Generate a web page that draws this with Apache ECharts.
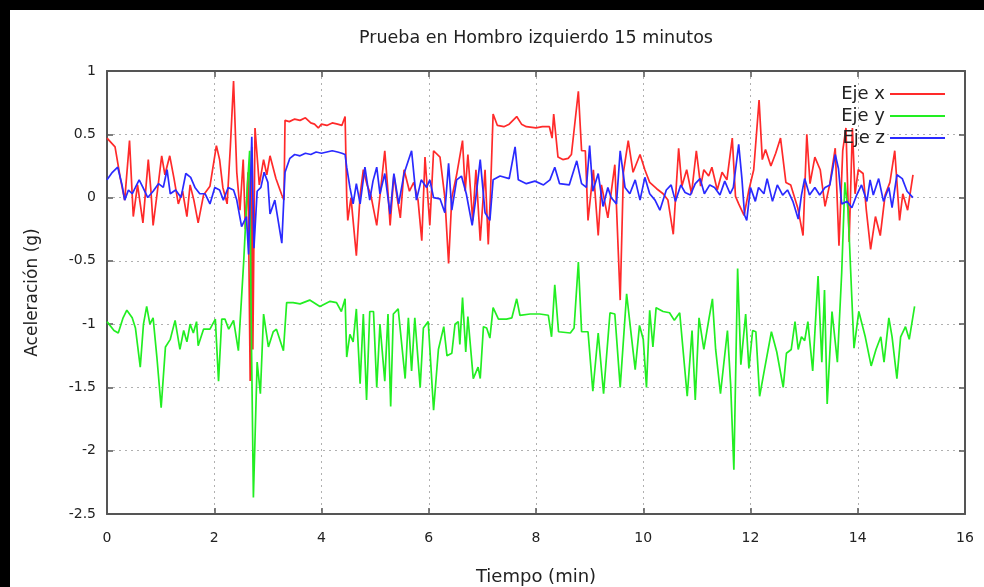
<!DOCTYPE html>
<html>
<head>
<meta charset="utf-8">
<script src="https://cdn.jsdelivr.net/npm/echarts@6/dist/echarts.min.js"></script>
<style>
  html, body { margin: 0; padding: 0; background: #000; width: 984px; height: 587px; overflow: hidden; }
  #chart { position: absolute; left: 10px; top: 10px; width: 974px; height: 577px; background: #fff; }
</style>
</head>
<body>
<div id="chart"></div>
<script>
// Acelerómetro en el hombro izquierdo: tiempo (min) y aceleración (g) por eje
const tiempoX = [
  0.00,0.15,0.25,0.33,0.42,0.49,0.57,0.67,0.77,0.82,
  0.86,0.94,1.02,1.08,1.17,1.25,1.33,1.41,1.49,1.55,
  1.62,1.70,1.80,1.92,2.04,2.10,2.16,2.24,2.30,2.36,
  2.42,2.48,2.54,2.58,2.63,2.67,2.70,2.72,2.76,2.84,
  2.92,2.98,3.04,3.15,3.26,3.30,3.32,3.40,3.50,3.60,
  3.70,3.80,3.87,3.94,4.00,4.10,4.20,4.30,4.38,4.44,
  4.47,4.49,4.55,4.65,4.72,4.78,4.85,4.92,5.03,5.10,
  5.18,5.23,5.28,5.35,5.41,5.47,5.54,5.64,5.72,5.80,
  5.87,5.93,6.02,6.09,6.21,6.30,6.37,6.43,6.52,6.63,
  6.68,6.73,6.82,6.88,6.96,7.05,7.11,7.15,7.20,7.28,
  7.40,7.50,7.64,7.73,7.82,8.00,8.12,8.25,8.30,8.33,
  8.41,8.50,8.60,8.66,8.79,8.85,8.92,8.97,9.07,9.16,
  9.22,9.34,9.47,9.57,9.63,9.72,9.81,9.94,10.03,10.12,
  10.25,10.37,10.46,10.56,10.66,10.72,10.81,10.90,10.99,11.07,
  11.13,11.22,11.28,11.38,11.47,11.56,11.66,11.72,11.78,11.88,
  11.97,12.06,12.16,12.22,12.28,12.38,12.47,12.56,12.66,12.75,
  12.88,12.98,13.05,13.11,13.20,13.30,13.39,13.48,13.58,13.65,
  13.72,13.78,13.84,13.90,13.95,14.01,14.10,14.16,14.24,14.33,
  14.42,14.51,14.60,14.69,14.78,14.84,14.93,15.03
];
const ejeX = [
  0.47,0.40,0.15,-0.02,0.45,-0.15,0.10,-0.20,0.30,0.05,
  -0.22,0.05,0.33,0.18,0.33,0.15,-0.05,0.05,-0.15,0.10,
  -0.02,-0.20,0.02,0.09,0.41,0.30,0.08,-0.05,0.40,0.92,
  0.20,-0.10,0.30,-0.25,0.20,-1.45,0.40,-1.20,0.55,0.10,
  0.30,0.18,0.33,0.15,0.02,-0.02,0.61,0.60,0.62,0.61,
  0.63,0.59,0.58,0.55,0.58,0.57,0.59,0.58,0.57,0.64,
  0.00,-0.18,0.00,-0.46,0.02,0.22,0.10,0.02,-0.22,0.05,
  0.37,0.10,-0.22,0.18,0.00,-0.16,0.22,0.05,0.12,-0.02,
  -0.34,0.32,-0.22,0.37,0.32,0.00,-0.52,0.00,0.18,0.45,
  0.05,0.34,-0.18,0.22,-0.34,0.22,-0.37,0.02,0.66,0.57,
  0.56,0.58,0.64,0.58,0.56,0.55,0.56,0.56,0.47,0.66,
  0.32,0.30,0.31,0.34,0.84,0.37,0.37,-0.18,0.22,-0.30,
  0.10,-0.16,0.26,-0.81,0.20,0.45,0.20,0.34,0.22,0.12,
  0.07,0.03,-0.02,-0.29,0.39,0.09,0.22,0.03,0.37,0.09,
  0.22,0.17,0.24,0.06,0.20,0.14,0.47,0.01,-0.05,-0.14,
  0.06,0.22,0.77,0.30,0.38,0.25,0.35,0.47,0.12,0.10,
  -0.08,-0.30,0.50,0.11,0.32,0.22,-0.07,0.11,0.39,-0.38,
  0.37,0.55,-0.35,0.55,0.03,0.22,0.19,-0.10,-0.41,-0.15,
  -0.30,0.02,0.12,0.37,-0.18,0.03,-0.10,0.18
];

const tiempoY = [
  0.00,0.13,0.21,0.30,0.37,0.47,0.53,0.62,0.68,0.74,
  0.80,0.86,0.93,1.01,1.09,1.18,1.27,1.36,1.43,1.49,
  1.55,1.61,1.67,1.70,1.80,1.92,2.02,2.08,2.14,2.20,
  2.27,2.36,2.45,2.55,2.62,2.66,2.69,2.73,2.80,2.86,
  2.92,3.01,3.10,3.16,3.29,3.35,3.47,3.60,3.78,3.97,
  4.16,4.28,4.37,4.44,4.47,4.53,4.59,4.65,4.72,4.78,
  4.84,4.90,4.97,5.03,5.09,5.18,5.24,5.29,5.34,5.43,
  5.56,5.62,5.68,5.74,5.84,5.90,5.99,6.09,6.18,6.28,
  6.34,6.43,6.49,6.55,6.58,6.63,6.69,6.73,6.83,6.92,
  6.96,7.02,7.08,7.14,7.20,7.30,7.45,7.55,7.64,7.70,
  7.89,8.07,8.23,8.29,8.35,8.42,8.64,8.71,8.79,8.85,
  8.97,9.06,9.16,9.26,9.38,9.47,9.57,9.69,9.78,9.85,
  9.93,10.00,10.06,10.12,10.18,10.24,10.37,10.49,10.58,10.68,
  10.82,10.91,10.97,11.04,11.13,11.22,11.29,11.35,11.44,11.57,
  11.63,11.69,11.76,11.82,11.91,11.97,12.04,12.10,12.17,12.26,
  12.39,12.49,12.61,12.67,12.76,12.83,12.89,12.95,13.01,13.07,
  13.16,13.26,13.33,13.38,13.43,13.52,13.62,13.70,13.76,13.82,
  13.88,13.93,14.02,14.14,14.25,14.34,14.43,14.49,14.58,14.64,
  14.73,14.80,14.89,14.96,15.06
];
const ejeY = [
  -0.98,-1.05,-1.07,-0.95,-0.89,-0.95,-1.03,-1.34,-1.00,-0.86,
  -1.00,-0.95,-1.26,-1.66,-1.18,-1.12,-0.97,-1.20,-1.05,-1.14,
  -1.00,-1.07,-0.98,-1.17,-1.04,-1.04,-0.96,-1.45,-0.96,-0.96,
  -1.04,-0.97,-1.21,-0.50,0.10,0.37,-1.00,-2.37,-1.30,-1.55,
  -0.92,-1.18,-1.06,-1.04,-1.21,-0.83,-0.83,-0.84,-0.81,-0.86,
  -0.82,-0.83,-0.90,-0.80,-1.26,-1.08,-1.14,-0.88,-1.47,-0.92,
  -1.60,-0.90,-0.90,-1.50,-1.00,-1.45,-0.92,-1.65,-0.92,-0.88,
  -1.43,-0.95,-1.37,-0.95,-1.50,-1.03,-0.98,-1.68,-1.20,-1.02,
  -1.25,-1.23,-1.00,-0.98,-1.16,-0.79,-1.22,-0.94,-1.43,-1.34,
  -1.43,-1.02,-1.03,-1.11,-0.87,-0.96,-0.96,-0.95,-0.80,-0.93,
  -0.92,-0.92,-0.93,-1.10,-0.69,-1.06,-1.07,-1.03,-0.51,-1.06,
  -1.06,-1.53,-1.07,-1.55,-0.91,-0.92,-1.50,-0.76,-1.10,-1.36,
  -1.01,-1.12,-1.50,-0.89,-1.18,-0.87,-0.90,-0.91,-0.97,-0.91,
  -1.57,-1.05,-1.60,-0.95,-1.20,-0.97,-0.80,-1.20,-1.55,-1.05,
  -1.48,-2.15,-0.56,-1.32,-0.92,-1.35,-1.05,-1.06,-1.57,-1.36,
  -1.06,-1.22,-1.50,-1.23,-1.20,-0.98,-1.20,-1.10,-1.13,-0.98,
  -1.37,-0.62,-1.30,-0.73,-1.63,-0.90,-1.30,-0.60,0.12,-0.10,
  -0.70,-1.19,-0.90,-1.10,-1.33,-1.20,-1.10,-1.30,-0.95,-1.10,
  -1.43,-1.10,-1.02,-1.12,-0.86
];

const tiempoZ = [
  0.00,0.10,0.20,0.28,0.33,0.40,0.47,0.53,0.60,0.67,
  0.76,0.86,0.96,1.05,1.12,1.18,1.28,1.38,1.47,1.56,
  1.64,1.73,1.83,1.92,2.01,2.10,2.17,2.26,2.36,2.42,
  2.51,2.60,2.64,2.70,2.74,2.80,2.87,2.93,3.00,3.04,
  3.13,3.26,3.32,3.41,3.50,3.60,3.70,3.80,3.90,4.00,
  4.10,4.20,4.30,4.38,4.44,4.47,4.53,4.59,4.65,4.72,
  4.81,4.90,4.96,5.03,5.09,5.18,5.28,5.35,5.44,5.54,
  5.68,5.77,5.86,5.96,6.02,6.09,6.21,6.30,6.37,6.43,
  6.52,6.61,6.70,6.81,6.87,6.96,7.05,7.14,7.20,7.33,
  7.50,7.61,7.67,7.82,7.98,8.14,8.26,8.35,8.44,8.62,
  8.76,8.85,8.94,9.00,9.06,9.16,9.25,9.34,9.40,9.50,
  9.57,9.66,9.75,9.85,9.94,10.03,10.12,10.22,10.31,10.43,
  10.52,10.60,10.70,10.78,10.88,10.97,11.06,11.14,11.24,11.33,
  11.43,11.52,11.62,11.68,11.78,11.84,11.89,11.93,12.00,12.09,
  12.15,12.25,12.31,12.41,12.50,12.60,12.69,12.79,12.89,12.95,
  13.01,13.10,13.20,13.29,13.39,13.48,13.58,13.64,13.70,13.80,
  13.89,13.98,14.07,14.17,14.23,14.29,14.39,14.48,14.58,14.64,
  14.73,14.83,14.92,15.03
];
const ejeZ = [
  0.14,0.20,0.24,0.10,-0.02,0.06,0.03,0.08,0.14,0.08,
  0.00,0.05,0.11,0.08,0.22,0.03,0.06,0.00,0.19,0.16,
  0.08,0.03,0.03,-0.05,0.08,0.06,-0.02,0.08,0.06,-0.02,
  -0.23,-0.15,-0.45,0.48,-0.40,0.05,0.08,0.20,0.12,-0.13,
  -0.02,-0.36,0.20,0.31,0.34,0.33,0.35,0.34,0.36,0.35,
  0.36,0.37,0.36,0.35,0.34,0.24,0.08,-0.05,0.11,-0.05,
  0.24,-0.02,0.13,0.24,0.03,0.19,-0.13,0.19,-0.05,0.19,
  0.37,-0.02,0.14,0.08,0.14,0.00,-0.01,-0.12,0.27,-0.10,
  0.14,0.17,0.03,-0.22,-0.03,0.30,-0.12,-0.18,0.14,0.17,
  0.15,0.40,0.14,0.11,0.13,0.10,0.14,0.24,0.11,0.10,
  0.29,0.11,0.08,0.41,0.05,0.19,-0.07,0.08,0.00,-0.05,
  0.37,0.08,0.03,0.14,-0.02,0.16,0.03,-0.02,-0.10,0.06,
  0.10,-0.03,0.10,0.04,0.02,0.11,0.15,0.03,0.10,0.08,
  0.02,0.13,0.03,0.08,0.42,0.15,-0.14,-0.18,0.08,-0.03,
  0.08,0.03,0.15,-0.03,0.10,0.02,0.06,-0.03,-0.17,0.02,
  0.15,0.02,0.08,0.02,0.08,0.10,0.34,0.23,-0.05,-0.03,
  -0.08,0.02,0.10,-0.03,0.14,0.02,0.15,-0.03,0.08,-0.08,
  0.18,0.15,0.05,0.00
];

const ticksTiempo = { min: 0, max: 16, interval: 2 };
const ticksAcel = { min: -2.5, max: 1, interval: 0.5 };

const fuente = 'DejaVu Sans';
const colorTexto = '#222';
const colorMarco = '#555';

function pares(t, v) {
  return t.map((x, i) => [x, v[i]]);
}

const ejeInferior = {
  type: 'value', position: 'bottom',
  min: ticksTiempo.min, max: ticksTiempo.max, interval: ticksTiempo.interval,
  name: 'Tiempo (min)', nameLocation: 'middle', nameGap: 54,
  nameTextStyle: { fontFamily: fuente, fontSize: 18, color: colorTexto },
  axisLine: { show: true, onZero: false, lineStyle: { color: colorMarco, width: 2 } },
  axisTick: { show: true, inside: true, length: 6, lineStyle: { color: colorMarco, width: 1.5 } },
  axisLabel: { fontFamily: fuente, fontSize: 14, color: colorTexto, margin: 17 },
  splitLine: { show: true, lineStyle: { color: '#b0b0b0', width: 1, type: [2, 4] } }
};
const ejeSuperior = {
  type: 'value', position: 'top',
  min: ticksTiempo.min, max: ticksTiempo.max, interval: ticksTiempo.interval,
  axisLine: { show: true, onZero: false, lineStyle: { color: colorMarco, width: 2 } },
  axisTick: { show: true, inside: true, length: 6, lineStyle: { color: colorMarco, width: 1.5 } },
  axisLabel: { show: false },
  splitLine: { show: false }
};
const ejeIzquierdo = {
  type: 'value', position: 'left',
  min: ticksAcel.min, max: ticksAcel.max, interval: ticksAcel.interval,
  name: 'Aceleración (g)', nameLocation: 'middle', nameGap: 66, nameRotate: 90,
  nameTextStyle: { fontFamily: fuente, fontSize: 17, color: colorTexto },
  axisLine: { show: true, onZero: false, lineStyle: { color: colorMarco, width: 2 } },
  axisTick: { show: true, inside: true, length: 6, lineStyle: { color: colorMarco, width: 1.5 } },
  axisLabel: { fontFamily: fuente, fontSize: 14, color: colorTexto, margin: 11 },
  splitLine: { show: true, lineStyle: { color: '#b0b0b0', width: 1, type: [2, 4] } }
};
const ejeDerecho = {
  type: 'value', position: 'right',
  min: ticksAcel.min, max: ticksAcel.max, interval: ticksAcel.interval,
  axisLine: { show: true, onZero: false, lineStyle: { color: colorMarco, width: 2 } },
  axisTick: { show: true, inside: true, length: 6, lineStyle: { color: colorMarco, width: 1.5 } },
  axisLabel: { show: false },
  splitLine: { show: false }
};

function serie(nombre, t, v, color) {
  return {
    name: nombre, type: 'line', xAxisIndex: 0, yAxisIndex: 0,
    data: pares(t, v), showSymbol: false, symbol: 'none',
    lineStyle: { color: color, width: 1.7 }, itemStyle: { color: color },
    emphasis: { disabled: true }
  };
}

const chart = echarts.init(document.getElementById('chart'), null, { renderer: 'canvas' });
chart.setOption({
  animation: false,
  backgroundColor: '#fff',
  title: {
    text: 'Prueba en Hombro izquierdo 15 minutos',
    left: 521, top: 14, textAlign: 'center',
    textStyle: { fontFamily: fuente, fontSize: 17.5, fontWeight: 'normal', color: colorTexto }
  },
  grid: { left: 97, top: 61, right: 19, bottom: 73, containLabel: false, outerBoundsMode: 'none' },
  xAxis: [ejeInferior, ejeSuperior],
  yAxis: [ejeIzquierdo, ejeDerecho],
  legend: {
    orient: 'vertical', right: 39, top: 75, align: 'right', padding: 0,
    itemWidth: 55, itemHeight: 2, itemGap: 4, icon: 'rect',
    textStyle: { fontFamily: fuente, fontSize: 18, color: colorTexto },
    data: ['Eje x', 'Eje y', 'Eje z']
  },
  series: [
    serie('Eje x', tiempoX, ejeX, '#ff2a2a'),
    serie('Eje y', tiempoY, ejeY, '#22ee22'),
    serie('Eje z', tiempoZ, ejeZ, '#2a2aff')
  ]
});
</script>
</body>
</html>
